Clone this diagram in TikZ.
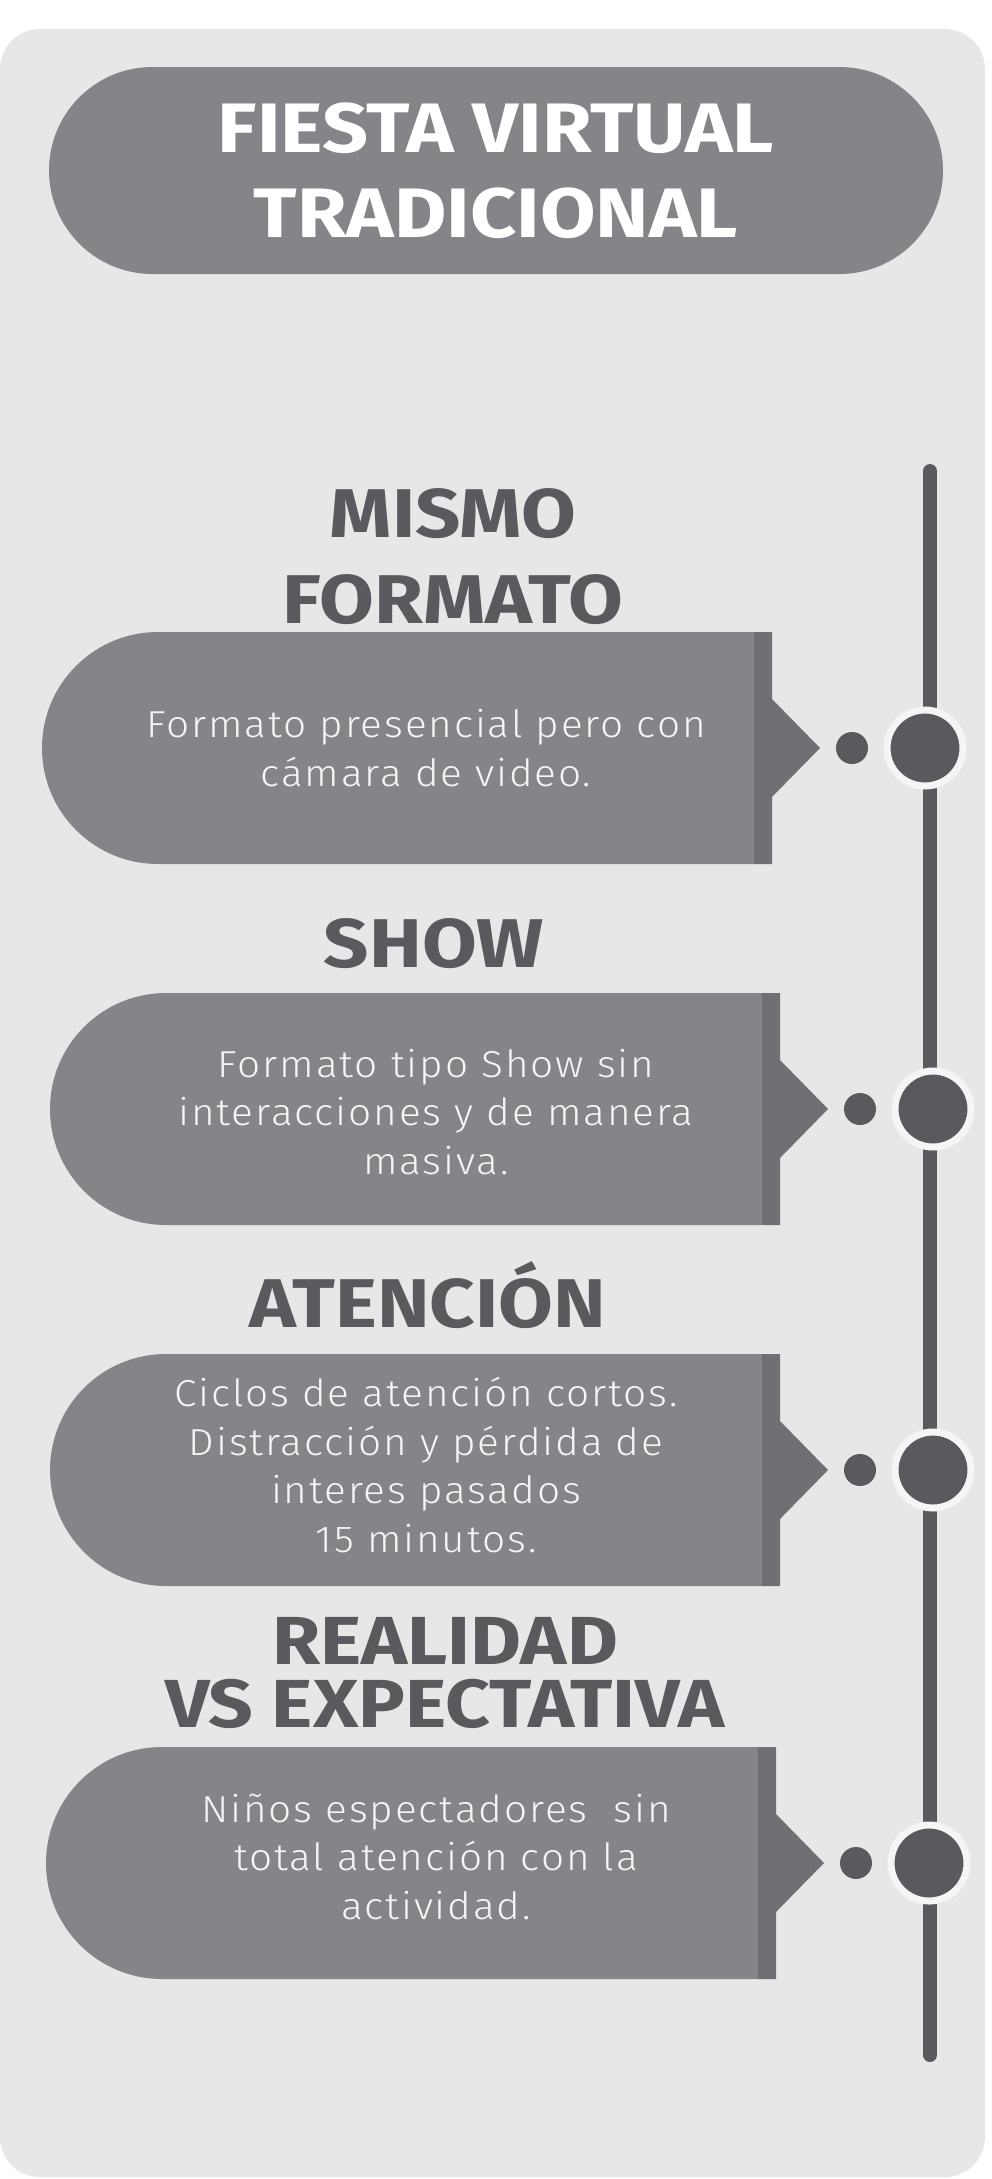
\documentclass[tikz,border=0pt]{standalone}
\usepackage{fontspec}
\setmainfont{Fira Sans}
\newfontfamily\headfont{Fira Sans}[FakeStretch=1.15]
\newfontfamily\bodyfont{Fira Sans Light}[LetterSpace=5,FakeStretch=1.08]
\usetikzlibrary{shapes.misc}
\definecolor{bggray}{HTML}{E7E7E7}
\definecolor{boxgray}{HTML}{858489}
\definecolor{stripgray}{HTML}{716F74}
\definecolor{darkgray}{HTML}{5A595E}
\definecolor{ringwhite}{HTML}{F5F5F5}
\tikzset{
  pill/.style={rounded rectangle,fill=boxgray,minimum width=894pt,minimum height=207pt,inner sep=0pt,
    text=white,align=center,font=\headfont\bfseries\fontsize{70}{85}\selectfont},
  heading/.style={anchor=base,align=center,text=darkgray,font=\headfont\bfseries\fontsize{69}{86}\selectfont},
  bodytext/.style={anchor=base,align=center,text=ringwhite,font=\bodyfont\fontsize{37.5}{48.5}\selectfont},
  bullet/.style={circle,fill=darkgray,inner sep=0pt,minimum size=32pt},
  bigdot/.style={circle,fill=darkgray,draw=ringwhite,line width=7pt,inner sep=0pt,minimum size=76pt}
}
\begin{document}
\begin{tikzpicture}[x=1pt,y=-1pt]
\useasboundingbox (0,0) rectangle (991,2179);
\fill[bggray,rounded corners=40pt] (0,29) rectangle (985,2177);

\node[pill] (title) at (496,170.5) {FIESTA VIRTUAL\\TRADICIONAL};

% timeline
\coordinate (ttop) at (930,471);
\coordinate (tbot) at (930,2055);
\draw[darkgray,line width=14pt,line cap=round] (ttop) -- (tbot);

\foreach \i/\y/\s in {1/748/0,2/1109/8,3/1470/8,4/1863/4}
 {\fill[boxgray] ({158+\s},{\y-116}) -- ({754+\s},{\y-116}) -- ({754+\s},{\y+116})
    -- ({158+\s},{\y+116}) arc[start angle=90,end angle=270,radius=116] -- cycle;
  \fill[stripgray] ({754+\s},{\y-116}) -- ({772+\s},{\y-116}) -- ({772+\s},{\y-49}) -- ({820+\s},\y)
    -- ({772+\s},{\y+49}) -- ({772+\s},{\y+116}) -- ({754+\s},{\y+116}) -- cycle;
  \node[bullet] (d\i) at ({852+\s},\y) {};
  \node[bigdot] (c\i) at ({925+\s},\y) {};
 };

% last baseline of each text at the coordinate
\node[heading] (h1) at (453,623) {MISMO\\FORMATO};
\node[bodytext] (t1) at (426,786) {Formato presencial pero con\\cámara de video.};

\node[heading] (h2) at (434,967) {SHOW};
\node[bodytext] (t2) at (436,1174) {Formato tipo Show sin\\interacciones y de manera\\masiva.};

\node[heading] (h3) at (428,1327) {ATENCIÓN};
\node[bodytext] (t3) at (426,1552) {Ciclos de atención cortos.\\Distracción y pérdida de\\interes pasados\\15 minutos.};

\node[heading,font=\headfont\bfseries\fontsize{68}{63}\selectfont] (h4) at (445,1727) {REALIDAD\\VS EXPECTATIVA};
\node[bodytext] (t4) at (436,1919) {Niños espectadores\ \ sin\\total atención con la\\actividad.};
\end{tikzpicture}
\end{document}
